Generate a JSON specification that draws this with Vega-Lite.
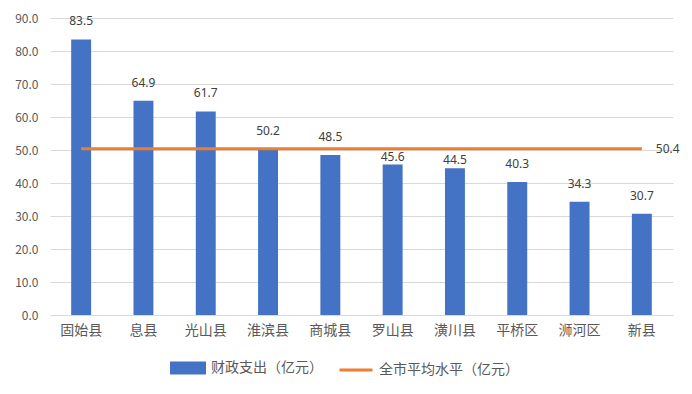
{
  "$schema": "https://vega.github.io/schema/vega-lite/v6.json",
  "width": 623,
  "height": 297,
  "autosize": {"type": "none"},
  "padding": {"left": 50, "top": 18, "right": 19, "bottom": 79},
  "background": "white",
  "data": {
    "values": [
      {"region": "固始县", "spend": 83.5, "avg": 50.4},
      {"region": "息县", "spend": 64.9, "avg": 50.4},
      {"region": "光山县", "spend": 61.7, "avg": 50.4},
      {"region": "淮滨县", "spend": 50.2, "avg": 50.4},
      {"region": "商城县", "spend": 48.5, "avg": 50.4},
      {"region": "罗山县", "spend": 45.6, "avg": 50.4},
      {"region": "潢川县", "spend": 44.5, "avg": 50.4},
      {"region": "平桥区", "spend": 40.3, "avg": 50.4},
      {"region": "浉河区", "spend": 34.3, "avg": 50.4},
      {"region": "新县", "spend": 30.7, "avg": 50.4}
    ]
  },
  "encoding": {
    "x": {
      "field": "region",
      "type": "nominal",
      "sort": null,
      "scale": {"paddingInner": 0.68, "paddingOuter": 0.34},
      "axis": {
        "title": null,
        "labelAngle": 0,
        "labelFontSize": 14,
        "labelColor": "#595959",
        "labelPadding": 8,
        "ticks": false,
        "domainColor": "#d9d9d9",
        "domainWidth": 1
      }
    },
    "y": {
      "field": "spend",
      "type": "quantitative",
      "scale": {"domain": [0, 90], "nice": false},
      "axis": {
        "title": null,
        "values": [0, 10, 20, 30, 40, 50, 60, 70, 80, 90],
        "labelOverlap": false,
        "format": ".1f",
        "labelFontSize": 12,
        "labelColor": "#595959",
        "labelPadding": 12,
        "ticks": false,
        "domain": false,
        "gridColor": "#d9d9d9",
        "gridWidth": 1
      }
    }
  },
  "layer": [
    {
      "mark": {"type": "bar", "color": "#4472C4"},
      "encoding": {
        "color": {
          "datum": "财政支出（亿元）",
          "type": "nominal",
          "scale": {
            "domain": ["财政支出（亿元）", "全市平均水平（亿元）"],
            "range": ["#4472C4", "#ED7D31"]
          },
          "legend": {
            "title": null,
            "orient": "none",
            "direction": "horizontal",
            "legendX": 120,
            "legendY": 332,
            "labelFontSize": 14,
            "labelColor": "#595959",
            "symbolSize": 1089,
            "symbolType": "M-1,-0.3H1V0.3H-1Z",
            "columnPadding": 10,
            "labelOffset": 5,
            "encode": {
              "symbols": {
                "update": {
                  "shape": {"signal": "datum.value == '财政支出（亿元）' ? 'M-1,-0.3H1V0.3H-1Z' : 'M-1,0H1'"},
                  "fill": {"signal": "datum.value == '财政支出（亿元）' ? '#4472C4' : 'transparent'"},
                  "stroke": {"signal": "datum.value == '财政支出（亿元）' ? 'transparent' : '#ED7D31'"},
                  "strokeWidth": {"value": 3}
                }
              }
            }
          }
        }
      }
    },
    {
      "transform": [{"filter": "datum.region != '罗山县' && datum.region != '潢川县'"}],
      "mark": {"type": "text", "dy": -18, "baseline": "middle", "fontSize": 12, "color": "#404040", "font": "Noto Sans"},
      "encoding": {
        "text": {"field": "spend", "type": "quantitative", "format": ".1f"}
      }
    },
    {
      "transform": [{"filter": "datum.region == '罗山县' || datum.region == '潢川县'"}],
      "mark": {"type": "text", "dy": -8, "baseline": "middle", "fontSize": 12, "color": "#404040", "font": "Noto Sans"},
      "encoding": {
        "text": {"field": "spend", "type": "quantitative", "format": ".1f"}
      }
    },
    {
      "mark": {"type": "line", "strokeWidth": 3},
      "encoding": {
        "y": {"field": "avg", "type": "quantitative"},
        "color": {"datum": "全市平均水平（亿元）", "type": "nominal"}
      }
    },
    {
      "transform": [{"filter": "datum.region == '新县'"}],
      "mark": {"type": "text", "align": "left", "dx": 14, "baseline": "middle", "fontSize": 12, "color": "#404040", "font": "Noto Sans"},
      "encoding": {
        "y": {"field": "avg", "type": "quantitative"},
        "text": {"field": "avg", "type": "quantitative", "format": ".1f"}
      }
    }
  ],
  "config": {
    "view": {"stroke": null},
    "font": "Noto Sans CJK SC",
    "axis": {"labelFont": "Noto Sans CJK SC"},
    "legend": {"labelFont": "Noto Sans CJK SC"}
  }
}
